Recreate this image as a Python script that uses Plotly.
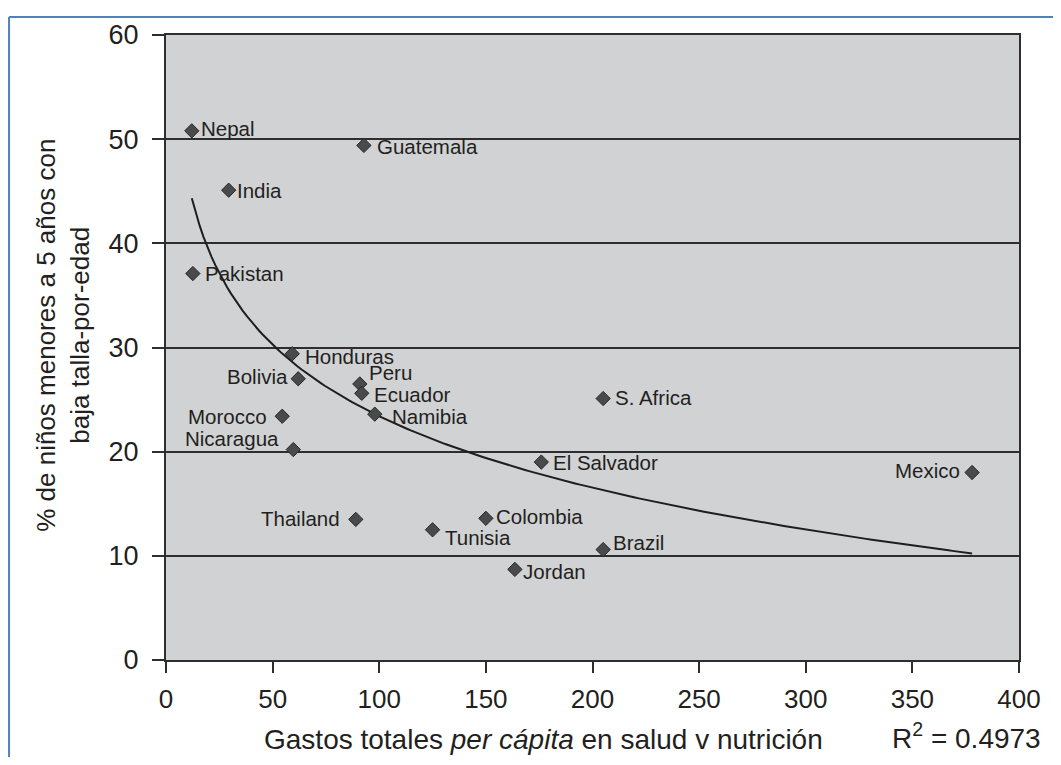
import numpy as np
import plotly.graph_objects as go

# ---- data ----
countries = ["Nepal", "Guatemala", "India", "Pakistan", "Honduras", "Bolivia", "Peru",
             "Ecuador", "Namibia", "Morocco", "Nicaragua", "S. Africa", "El Salvador",
             "Mexico", "Thailand", "Colombia", "Tunisia", "Brazil", "Jordan"]
spending = [12.1, 92.8, 29.4, 12.6, 59.2, 62.0, 90.9, 91.8, 97.9, 54.5, 59.7,
            205.0, 176.0, 378.0, 89.0, 150.0, 125.0, 205.0, 163.6]
stunting = [50.8, 49.4, 45.1, 37.1, 29.4, 27.0, 26.5, 25.6, 23.6, 23.4, 20.2,
            25.1, 19.0, 18.0, 13.5, 13.6, 12.5, 10.6, 8.7]
x_ticks = [0, 50, 100, 150, 200, 250, 300, 350, 400]
y_ticks = [0, 10, 20, 30, 40, 50, 60]
r2_label = "R<sup>2</sup> = 0.4973"
x_title = "Gastos totales <i>per cápita</i> en salud v nutrición"
y_title = "% de niños menores a 5 años con<br>baja talla-por-edad"

# label placement (style): anchor, xshift, yshift
label_style = {
    "Nepal": ("left", 7, 2), "Guatemala": ("left", 11, -1), "India": ("left", 6, 0),
    "Pakistan": ("left", 10, 0), "Honduras": ("left", 11, -3), "Bolivia": ("right", -8, 2),
    "Peru": ("left", 7, 11), "Ecuador": ("left", 10, -1), "Namibia": ("left", 15, -2),
    "Morocco": ("right", -13, 0), "Nicaragua": ("right", -12, 11), "S. Africa": ("left", 10, 1),
    "El Salvador": ("left", 10, 0), "Mexico": ("right", -10, 2), "Thailand": ("right", -14, 1),
    "Colombia": ("left", 8, 2), "Tunisia": ("left", 10, -8), "Brazil": ("left", 8, 7),
    "Jordan": ("left", 6, -2),
}

FONT = "Liberation Sans, Arial, Helvetica, sans-serif"
TXT = "#231f20"
LINE = "#2e2e2e"

# logarithmic trend line fitted to the data
xs = np.array(spending)
ys = np.array(stunting)
b, a = np.polyfit(np.log(xs), ys, 1)
xt = np.linspace(xs.min(), xs.max(), 200)
yt = a + b * np.log(xt)

fig = go.Figure()
fig.add_trace(go.Scatter(x=xt, y=yt, mode="lines", line=dict(color="#1e1e1e", width=2),
                         hoverinfo="skip", showlegend=False))
fig.add_trace(go.Scatter(x=spending, y=stunting, mode="markers", text=countries,
                         marker=dict(symbol="diamond", size=11, color="#4a4a4a",
                                     line=dict(color="#262626", width=1)),
                         showlegend=False))

annotations = []
for c, xv, yv in zip(countries, spending, stunting):
    anc, dx, dy = label_style[c]
    annotations.append(dict(x=xv, y=yv, xref="x", yref="y", text=c, showarrow=False,
                            xanchor=anc, yanchor="middle", xshift=dx, yshift=dy,
                            font=dict(family=FONT, size=20.5, color=TXT)))

# axis titles
annotations.append(dict(x=0.112, y=-0.127, xref="paper", yref="paper",
                        text=x_title, showarrow=False, xanchor="left", yanchor="middle",
                        font=dict(family=FONT, size=28, color=TXT)))
annotations.append(dict(x=1.028, y=-0.122, xref="paper", yref="paper",
                        text=r2_label, showarrow=False, xanchor="right", yanchor="middle",
                        font=dict(family=FONT, size=28, color=TXT)))
annotations.append(dict(x=-0.121, y=0.52, xref="paper", yref="paper",
                        text=y_title, showarrow=False, textangle=-90,
                        xanchor="center", yanchor="middle",
                        font=dict(family=FONT, size=26, color=TXT)))

# blue page frame
blue = "#4f81bd"
shapes = [
    dict(type="line", xref="paper", yref="paper", x0=-0.184, x1=1.1,
         y0=1.029, y1=1.029, line=dict(color=blue, width=2)),
    dict(type="line", xref="paper", yref="paper", x0=-0.184, x1=-0.184,
         y0=1.029, y1=-0.3, line=dict(color=blue, width=2)),
]

fig.update_layout(
    width=1045, height=749,
    margin=dict(l=158, r=27, t=21, b=97),
    paper_bgcolor="white", plot_bgcolor="#d1d2d4",
    font=dict(family=FONT, color=TXT),
    annotations=annotations, shapes=shapes,
    hovermode="closest",
)
fig.update_xaxes(range=[0, 400], tickvals=x_ticks, ticks="outside", ticklen=11, tickwidth=1.5,
                 tickcolor=LINE, showline=True, linecolor=LINE, linewidth=2, mirror=True,
                 showgrid=False, zeroline=False, ticklabelstandoff=4,
                 tickfont=dict(size=26, color=TXT, family=FONT))
fig.update_yaxes(range=[0, 60], tickvals=y_ticks, ticks="outside", ticklen=12, tickwidth=1.5,
                 tickcolor=LINE, showline=True, linecolor=LINE, linewidth=2, mirror=True,
                 showgrid=True, gridcolor=LINE, gridwidth=1.5, zeroline=False,
                 ticklabelstandoff=8,
                 tickfont=dict(size=27, color=TXT, family=FONT))

fig.write_html("out.html")
